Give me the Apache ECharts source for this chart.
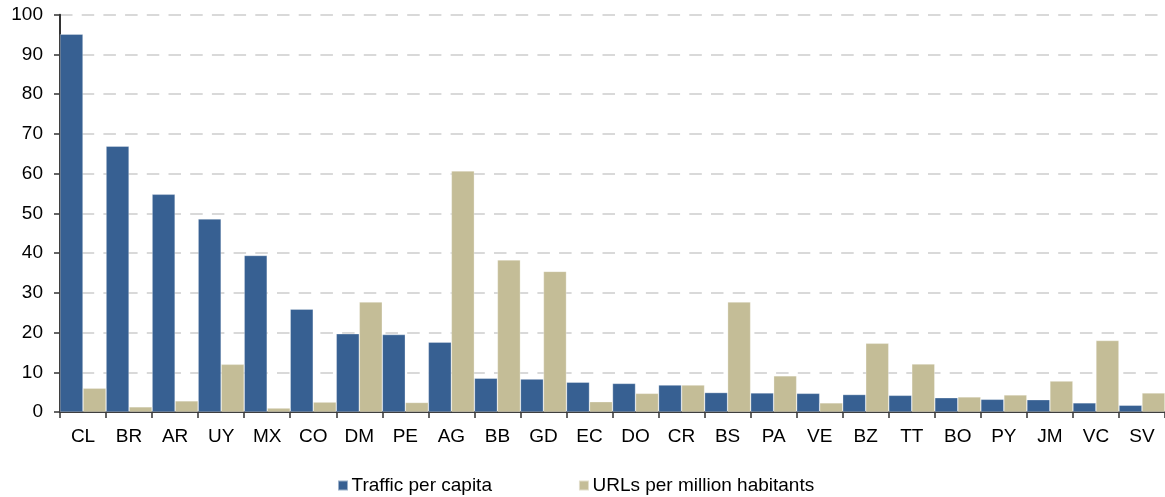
<!DOCTYPE html>
<html><head><meta charset="utf-8">
<script src="https://cdn.jsdelivr.net/npm/echarts@6/dist/echarts.min.js"></script>
<style>html,body{margin:0;padding:0;background:#fff}#c{width:1165px;height:497px}</style>
</head><body><div id="c"></div>
<script>
const categories = ['CL','BR','AR','UY','MX','CO','DM','PE','AG','BB','GD','EC','DO','CR','BS','PA','VE','BZ','TT','BO','PY','JM','VC','SV'];
const traffic = [95.1,66.9,54.8,48.6,39.4,25.9,19.7,19.5,17.6,8.5,8.3,7.5,7.2,6.8,4.9,4.8,4.7,4.4,4.2,3.6,3.2,3.1,2.3,1.7];
const urls = [6.0,1.3,2.8,12.0,1.0,2.5,27.7,2.4,60.7,38.3,35.4,2.6,4.7,6.8,27.7,9.1,2.3,17.3,12.1,3.8,4.3,7.8,18.0,4.8];
const seriesNames = ['Traffic per capita','URLs per million habitants'];
const yTicks = {min:0,max:100,interval:10};

const font = 'Liberation Sans, Arial, sans-serif';
const chart = echarts.init(document.getElementById('c'));
chart.setOption({
  animation:false,
  grid:{left:60,width:1113,top:14.7,bottom:85,containLabel:false},
  legend:{
    left:337, top:476, padding:0, itemWidth:10, itemHeight:10, itemGap:86, icon:'rect',
    textStyle:{fontFamily:font,fontSize:19,color:'#000',padding:[0,0,0,-1.5]},
    data:seriesNames
  },
  xAxis:{
    type:'category', data:categories, boundaryGap:true,
    axisLine:{lineStyle:{color:'#333',width:2}},
    axisTick:{show:true,length:6,lineStyle:{color:'#333',width:1.5}},
    axisLabel:{fontFamily:font,fontSize:19,color:'#000',margin:15,interval:0}
  },
  yAxis:{
    type:'value', min:yTicks.min, max:yTicks.max, interval:yTicks.interval,
    axisLine:{show:true,lineStyle:{color:'#333',width:2}},
    axisTick:{show:true,length:6,lineStyle:{color:'#333',width:1.5}},
    axisLabel:{fontFamily:font,fontSize:19,color:'#000',margin:17},
    splitLine:{show:true,lineStyle:{color:'#d9d9d9',width:2,type:[12.5,9.2]}}
  },
  series:[
    {name:seriesNames[0],type:'bar',data:traffic,barGap:'0%',barCategoryGap:'0%',
     itemStyle:{color:'#376092',borderColor:'rgba(255,255,255,0.5)',borderWidth:0.6}},
    {name:seriesNames[1],type:'bar',data:urls,barGap:'0%',barCategoryGap:'0%',
     itemStyle:{color:'#c4bd97',borderColor:'rgba(255,255,255,0.5)',borderWidth:0.6}}
  ]
});
</script></body></html>
